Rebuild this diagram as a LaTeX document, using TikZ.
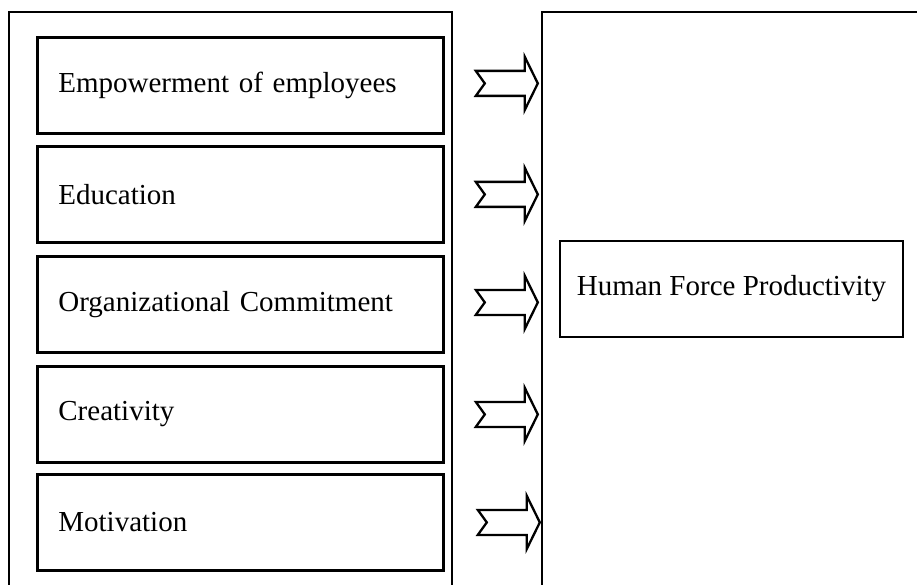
\documentclass[tikz,border=0pt]{standalone}
\usepackage{fontspec}
\setmainfont{Liberation Serif}
\usetikzlibrary{calc}
\begin{document}
\begin{tikzpicture}[x=1pt,y=-1pt,
  outer/.style={draw=black,line width=2pt},
  itembox/.style={draw=black,line width=2.8pt,anchor=north west,minimum height=96pt,
    text width=364pt,inner xsep=21pt,align=left,font=\fontsize{29}{34}\selectfont},
  resbox/.style={draw=black,line width=2.6pt,minimum width=343pt,minimum height=96pt,
    font=\fontsize{29}{34}\selectfont},
  blockarrow/.style={draw=black,line width=2.3pt,fill=white,line join=miter}]
\useasboundingbox (0,0) rectangle (917,585);
\clip (0,0) rectangle (917,585);
\draw[outer] (9,12) rectangle (452,600);
\draw[outer] (542,12) rectangle (940,600);
\node[itembox] (b1) at (36,36) {Empowerment of employees};
\node[itembox] (b2) at (36,145) {Education};
\node[itembox] (b3) at (36,255) {Organizational Commitment};
\node[itembox] (b4) at (36,365) {Creativity};
\node[itembox] (b5) at (36,473) {Motivation};
\node[resbox] (hfp) at (731.5,289) {Human Force Productivity};
\foreach \b/\dx/\dy in {b1/62/-2,b2/62/0,b3/62/-2,b4/62/0,b5/64/0}{
  \coordinate (a\b) at ($(\b.east)+(\dx,\dy)$);
  \draw[blockarrow] ($(a\b)+(-31,-12.5)$) -- ++(49,0) -- ++(0,-14) -- ++(13,26.5)
    -- ++(-13,26.5) -- ++(0,-14) -- ++(-49,0) -- ++(9,-12.5) -- cycle;
}
\end{tikzpicture}
\end{document}
